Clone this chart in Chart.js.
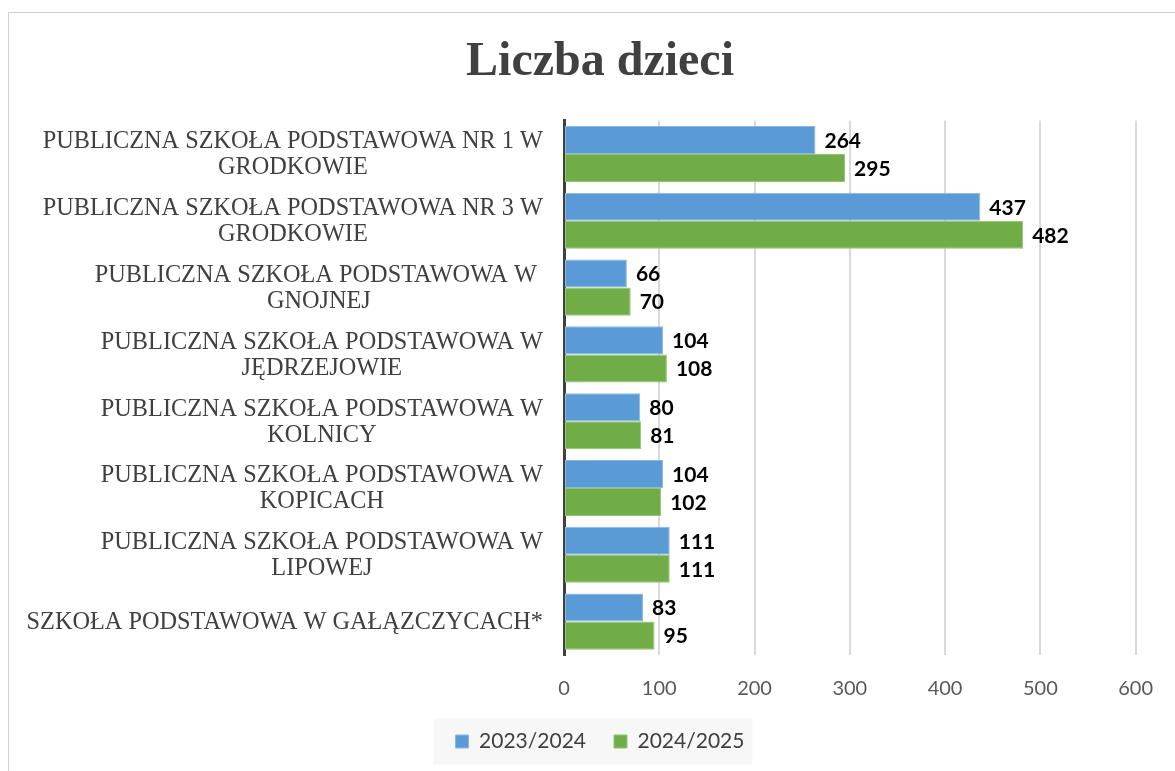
<!DOCTYPE html>
<html>
<head>
<meta charset="utf-8">
<script src="https://cdn.jsdelivr.net/npm/chart.js@4"></script>
<style>
  html, body { margin: 0; padding: 0; background: #fff; }
  #wrap { position: relative; width: 1175px; height: 771px; overflow: hidden; }
  #frame { position: absolute; left: 8px; top: 12px; width: 1200px; height: 800px; border: 1px solid #d0d0d0; }
  #chart { position: absolute; left: 0; top: 0; }
</style>
</head>
<body>
<div id="wrap">
  <div id="frame"></div>
  <canvas id="chart" width="1175" height="771"></canvas>
</div>
<script>
// categories (schools), one array of lines per label
const schools = [
    ["PUBLICZNA SZKOŁA PODSTAWOWA NR 1 W", "GRODKOWIE"],
    ["PUBLICZNA SZKOŁA PODSTAWOWA NR 3 W", "GRODKOWIE"],
    ["PUBLICZNA SZKOŁA PODSTAWOWA W ", "GNOJNEJ"],
    ["PUBLICZNA SZKOŁA PODSTAWOWA W", "JĘDRZEJOWIE"],
    ["PUBLICZNA SZKOŁA PODSTAWOWA W", "KOLNICY"],
    ["PUBLICZNA SZKOŁA PODSTAWOWA W", "KOPICACH"],
    ["PUBLICZNA SZKOŁA PODSTAWOWA W", "LIPOWEJ"],
    ["SZKOŁA PODSTAWOWA W GAŁĄZCZYCACH*"]
];
const years = ["2023/2024", "2024/2025"];
const kids2023 = [264, 437, 66, 104, 80, 104, 111, 83];
const kids2024 = [295, 482, 70, 108, 81, 102, 111, 95];
const xTicks = [0, 100, 200, 300, 400, 500, 600];

const SANS = "Lato, 'Open Sans', sans-serif";
const SERIF = "'Liberation Serif', 'Times New Roman', serif";

// category labels: block right-aligned, lines centred inside the block (like Excel)
const schoolLabels = {
    id: 'schoolLabels',
    afterDraw(chart) {
        const ctx = chart.ctx;
        const yScale = chart.scales.y;
        const right = chart.chartArea.left - 21;
        const lh = 26;
        ctx.save();
        ctx.font = "24.3px " + SERIF;
        ctx.fillStyle = "#404040";
        ctx.textBaseline = "middle";
        ctx.textAlign = "center";
        schools.forEach((lines, i) => {
            const cy = yScale.getPixelForValue(i);
            const w = Math.max(...lines.map(l => ctx.measureText(l).width));
            const cx = right - w / 2;
            const top = cy - (lines.length - 1) * lh / 2;
            lines.forEach((l, j) => ctx.fillText(l, cx, top + j * lh + 1));
        });
        ctx.restore();
    }
};

// value labels at the end of each bar
const valueLabels = {
    id: 'valueLabels',
    afterDatasetsDraw(chart) {
        const ctx = chart.ctx;
        ctx.save();
        ctx.font = "bold 21px " + SANS;
        ctx.fillStyle = "#000";
        ctx.textBaseline = "middle";
        ctx.textAlign = "left";
        chart.data.datasets.forEach((ds, di) => {
            chart.getDatasetMeta(di).data.forEach((bar, i) => {
                ctx.fillText(ds.data[i], bar.x + 9, bar.y + 1);
            });
        });
        ctx.restore();
    }
};

// light grey box behind the legend
const legendBox = {
    id: 'legendBox',
    beforeDraw(chart) {
        const boxes = chart.legend && chart.legend.legendHitBoxes;
        if (!boxes || !boxes.length) return;
        const l = Math.min(...boxes.map(b => b.left)) - 22;
        const r = Math.max(...boxes.map(b => b.left + b.width)) + 8;
        const t = boxes[0].top + boxes[0].height / 2 - 23;
        const ctx = chart.ctx;
        ctx.save();
        ctx.fillStyle = "#f7f7f7";
        ctx.fillRect(l, t, r - l, 46);
        ctx.restore();
    }
};

new Chart(document.getElementById('chart'), {
    type: 'bar',
    data: {
        labels: schools,
        datasets: [
            { label: years[0], data: kids2023, backgroundColor: '#5B9BD5', borderColor: '#8ab8e3', borderWidth: 1, borderSkipped: false },
            { label: years[1], data: kids2024, backgroundColor: '#70AD47', borderColor: '#93c472', borderWidth: 1, borderSkipped: false }
        ]
    },
    options: {
        indexAxis: 'y',
        responsive: false,
        animation: false,
        layout: { padding: { left: 60, right: 35, top: 0, bottom: 9 } },
        datasets: { bar: { categoryPercentage: 0.84, barPercentage: 1.0 } },
        scales: {
            x: {
                min: 0,
                max: 600,
                afterBuildTicks: (scale) => { scale.ticks = xTicks.map(v => ({ value: v })); },
                grid: { color: '#d9d9d9', lineWidth: 2, drawTicks: false },
                border: { display: false },
                ticks: { color: '#595959', font: { family: SANS, size: 20 }, padding: 22 },
                afterFit: (scale) => { scale.height = 48; }
            },
            y: {
                grid: { display: false, drawTicks: false },
                border: { display: true, color: '#404040', width: 3 },
                ticks: { color: 'rgba(0,0,0,0)', font: { family: SERIF, size: 20 } },
                afterFit: (scale) => { scale.width = 504; }
            }
        },
        plugins: {
            title: {
                display: true,
                text: 'Liczba dzieci',
                color: '#404040',
                font: { family: SERIF, size: 48, weight: 'bold' },
                padding: { top: 34, bottom: 29 }
            },
            legend: {
                position: 'bottom',
                labels: {
                    color: '#404040',
                    font: { family: SANS, size: 21 },
                    boxWidth: 13,
                    boxHeight: 13,
                    padding: 28
                }
            },
            tooltip: { enabled: false }
        }
    },
    plugins: [legendBox, schoolLabels, valueLabels]
});
</script>
</body>
</html>
